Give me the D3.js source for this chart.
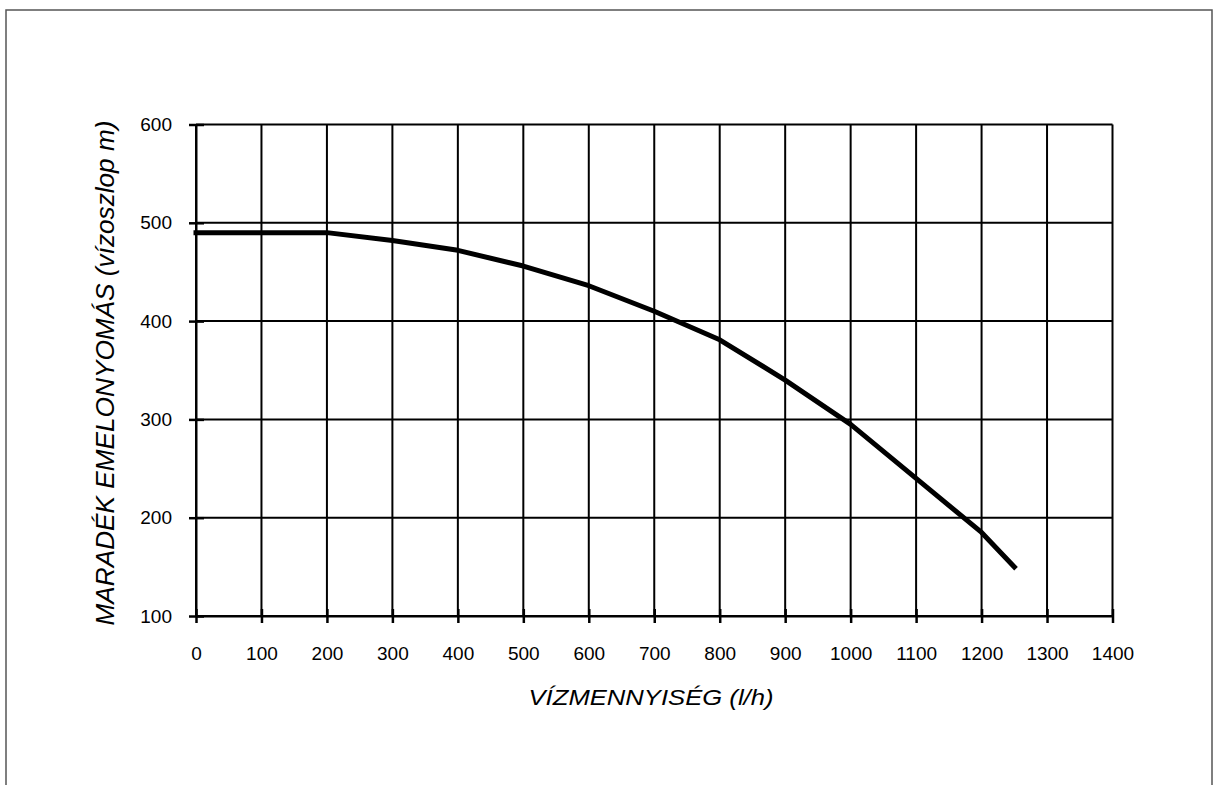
<!DOCTYPE html>
<html>
<head>
<meta charset="utf-8">
<script src="https://cdn.jsdelivr.net/npm/d3@7"></script>
<style>
  html, body { margin: 0; padding: 0; background: #fff; }
  svg { display: block; }
  text { font-family: "Liberation Sans", Arial, Helvetica, sans-serif; fill: #000; }
</style>
</head>
<body>
<svg id="chart" width="1213" height="785"></svg>
<script>
// ---- data ----
const flow = [0, 200, 300, 400, 500, 600, 700, 800, 900, 1000, 1100, 1200, 1250];
const pressure = [490, 490, 482, 472, 456, 436, 410, 381, 340, 295, 240, 185, 150];
const xTicks = [0, 100, 200, 300, 400, 500, 600, 700, 800, 900, 1000, 1100, 1200, 1300, 1400];
const yTicks = [100, 200, 300, 400, 500, 600];
const xTitle = "VÍZMENNYISÉG (l/h)";
const yTitle = "MARADÉK EMELONYOMÁS (vízoszlop m)";

(function () {
const svg = d3.select("#chart");
const pL = 196, pR = 1112.5, pT = 124.5, pB = 616;

// frame
svg.append("rect")
  .attr("x", 6).attr("y", 10)
  .attr("width", 1206).attr("height", 800)
  .attr("fill", "none").attr("stroke", "#555").attr("stroke-width", 1.5);

const x = d3.scaleLinear().domain([0, 1400]).range([pL, pR]);
const y = d3.scaleLinear().domain([100, 600]).range([pB, pT]);

// grid
const g = svg.append("g");
g.selectAll("line.vg").data(xTicks).join("line")
  .attr("class", "vg")
  .attr("x1", d => x(d)).attr("x2", d => x(d))
  .attr("y1", pT).attr("y2", pB)
  .attr("stroke", "#000").attr("stroke-width", 2);
g.selectAll("line.hg").data(yTicks).join("line")
  .attr("class", "hg")
  .attr("x1", pL).attr("x2", pR)
  .attr("y1", d => y(d)).attr("y2", d => y(d))
  .attr("stroke", "#000").attr("stroke-width", 2);

// axes with crossing ticks
const fmt = d3.format("d");
const xAxis = d3.axisBottom(x).tickValues(xTicks).tickFormat(fmt).tickSize(7).tickSizeOuter(0).tickPadding(23.5);
const gx = svg.append("g").attr("transform", `translate(0,${pB})`).call(xAxis);
gx.select(".domain").attr("stroke", "#000").attr("stroke-width", 2);
gx.selectAll(".tick line").attr("stroke", "#000").attr("stroke-width", 2.5).attr("y1", -7);
gx.selectAll(".tick text").attr("font-size", 19).attr("font-family", "Liberation Sans, Arial, sans-serif");

const yAxis = d3.axisLeft(y).tickValues(yTicks).tickFormat(fmt).tickSize(7).tickSizeOuter(0).tickPadding(17);
const gy = svg.append("g").attr("transform", `translate(${pL},0)`).call(yAxis);
gy.select(".domain").attr("stroke", "#000").attr("stroke-width", 2);
gy.selectAll(".tick line").attr("stroke", "#000").attr("stroke-width", 2.5).attr("x1", 8);
gy.selectAll(".tick text").attr("font-size", 19).attr("font-family", "Liberation Sans, Arial, sans-serif");

// curve
const line = d3.line().x((d, i) => x(flow[i])).y(d => y(d));
svg.append("path")
  .datum(pressure)
  .attr("d", line)
  .attr("fill", "none")
  .attr("stroke", "#000")
  .attr("stroke-width", 5)
  .attr("stroke-linecap", "square")
  .attr("stroke-linejoin", "round");

// titles
svg.append("text")
  .attr("x", 651).attr("y", 705)
  .attr("text-anchor", "middle")
  .attr("font-size", 22).attr("font-style", "italic")
  .attr("textLength", 245).attr("lengthAdjust", "spacingAndGlyphs")
  .text(xTitle);

svg.append("text")
  .attr("transform", `translate(114,373) rotate(-90)`)
  .attr("text-anchor", "middle")
  .attr("font-size", 26).attr("font-style", "italic")
  .attr("textLength", 505).attr("lengthAdjust", "spacingAndGlyphs")
  .text(yTitle);
})();
</script>
</body>
</html>
